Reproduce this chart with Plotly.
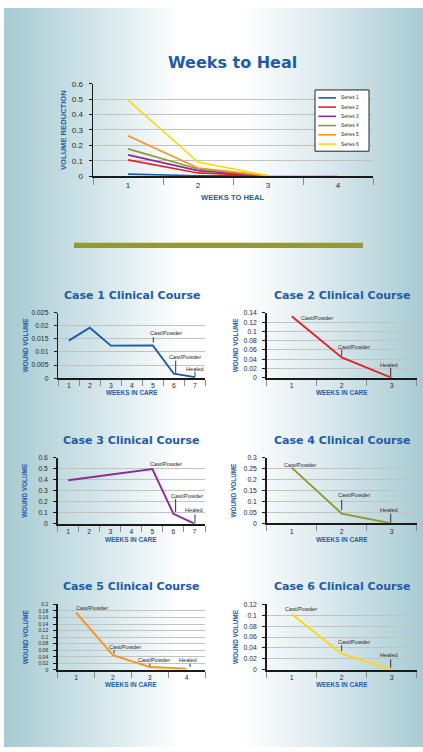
import plotly.graph_objects as go

W, H = 423, 752

# ---------------- data ----------------
main_weeks = [1, 2, 3, 4]
main_week_labels = ["1", "2", "3", "4"]
series_names = ["Series 1", "Series 2", "Series 3", "Series 4", "Series 5", "Series 6"]
series_1 = [0.013, 0.003, 0.002, 0.002]
series_2 = [0.106, 0.021, 0.002, 0.0]
series_3 = [0.138, 0.036, 0.002, 0.001]
series_4 = [0.177, 0.047, 0.003, 0.001]
series_5 = [0.263, 0.053, 0.003, 0.001]
series_6 = [0.493, 0.092, 0.004, 0.001]
main_yticks = [0, 0.1, 0.2, 0.3, 0.4, 0.5, 0.6]

case_titles = ["Case 1 Clinical Course", "Case 2 Clinical Course", "Case 3 Clinical Course",
               "Case 4 Clinical Course", "Case 5 Clinical Course", "Case 6 Clinical Course"]

case1_weeks = [1, 2, 3, 4, 5, 6, 7]
case1_volume = [0.0143, 0.0192, 0.0124, 0.0124, 0.0125, 0.0017, 0.0004]
case1_yticks = [0, 0.005, 0.01, 0.015, 0.02, 0.025]

case2_weeks = [1, 2, 3]
case2_volume = [0.133, 0.044, 0.0]
case2_yticks = [0, 0.02, 0.04, 0.06, 0.08, 0.1, 0.12, 0.14]

case3_weeks = [1, 2, 3, 4, 5, 6, 7]
case3_volume = [0.396, 0.42, 0.445, 0.47, 0.497, 0.09, 0.0]
case3_yticks = [0, 0.1, 0.2, 0.3, 0.4, 0.5, 0.6]

case4_weeks = [1, 2, 3]
case4_volume = [0.255, 0.045, 0.0]
case4_yticks = [0, 0.05, 0.1, 0.15, 0.2, 0.25, 0.3]

case5_weeks = [1, 2, 3, 4]
case5_volume = [0.175, 0.045, 0.009, 0.004]
case5_yticks = [0, 0.02, 0.04, 0.06, 0.08, 0.1, 0.12, 0.14, 0.16, 0.18, 0.2]

case6_weeks = [1, 2, 3]
case6_volume = [0.1025, 0.029, 0.0]
case6_yticks = [0, 0.02, 0.04, 0.06, 0.08, 0.1, 0.12]

# event notes: (week, label)
case1_events = [(5, "Cast/Powder"), (6, "Cast/Powder"), (7, "Healed")]
case2_events = [(1, "Cast/Powder"), (2, "Cast/Powder"), (3, "Healed")]
case3_events = [(5, "Cast/Powder"), (6, "Cast/Powder"), (7, "Healed")]
case4_events = [(1, "Cast/Powder"), (2, "Cast/Powder"), (3, "Healed")]
case5_events = [(1, "Cast/Powder"), (2, "Cast/Powder"), (3, "Cast/Powder"), (4, "Healed")]
case6_events = [(1, "Cast/Powder"), (2, "Cast/Powder"), (3, "Healed")]

# ---------------- styles / placement ----------------
BLUE_TXT = "#1f5ca8"
series_colors = ["#1d5aa8", "#e2222b", "#8a2b9a", "#8c9b2e", "#f7941e", "#fdd80f"]
PLOT_BG = "#fdfbe6"
GRID = "#c2c2c2"
AXIS = "#1a1a1a"
TICKC = "#8c8c8c"
TXT = "#2a2a2a"
TITLE_FONT = "DejaVu Sans"
NARROW = "Liberation Sans Narrow, Liberation Sans, Arial"
SANS = "Liberation Sans, Arial"

# text placement for each event: (text y in data units, text x shift px, marker line (dx, y0, y1) or None)
case1_event_pos = [(0.0171, 13.5, (0.5, 0.0156, 0.0136)), (0.0080, 11.5, (1.9, 0.0067, 0.0020)),
                   (0.0035, 0.0, (0.2, 0.0024, 0.0005))]
case2_event_pos = [(0.1293, 25.5, None), (0.0675, 12.3, (0.0, 0.0604, 0.0476)),
                   (0.0284, -2.4, (-1.0, 0.0213, 0.0034))]
case3_event_pos = [(0.54, 14.0, None), (0.2545, 14.0, (2.2, 0.225, 0.105)),
                   (0.123, 0.0, (0.5, 0.084, 0.009))]
case4_event_pos = [(0.2666, 8.3, None), (0.128, 12.3, (0.0, 0.108, 0.0605)),
                   (0.0605, -2.4, (-1.0, 0.044, 0.006))]
case5_event_pos = [(0.188, 16.0, None), (0.0694, 12.4, (1.1, 0.0603, 0.0503)),
                   (0.029, 4.0, (0.2, 0.019, 0.011)), (0.029, 1.7, (3.4, 0.019, 0.009))]
case6_event_pos = [(0.111, 9.3, None), (0.0504, 12.3, (0.0, 0.045, 0.034)),
                   (0.0267, -2.4, (-1.0, 0.019, 0.0036))]

# frames in pixels: x0, x1, ytop, ybottom, title y, x-title y, y-title x, tick font size
case_frames = [
    dict(x0=58.3, x1=205.3, yt=312.3, yb=378.7, ty=295.0, xty=393.0, ytx=25.0, fs=6.8),
    dict(x0=266.7, x1=416.7, yt=312.7, yb=378.3, ty=295.0, xty=393.3, ytx=235.0, fs=6.8),
    dict(x0=57.7, x1=205.0, yt=459.3, yb=526.0, ty=441.7, xty=541.7, ytx=25.0, fs=6.8),
    dict(x0=266.7, x1=416.7, yt=459.3, yb=525.7, ty=441.7, xty=542.3, ytx=234.0, fs=6.8),
    dict(x0=57.7, x1=205.0, yt=607.7, yb=674.0, ty=590.0, xty=688.3, ytx=25.0, fs=5.0),
    dict(x0=266.7, x1=416.7, yt=607.7, yb=673.7, ty=590.0, xty=688.3, ytx=235.0, fs=6.8),
]

cases = [
    (case1_weeks, case1_volume, case1_yticks, case1_events, case1_event_pos),
    (case2_weeks, case2_volume, case2_yticks, case2_events, case2_event_pos),
    (case3_weeks, case3_volume, case3_yticks, case3_events, case3_event_pos),
    (case4_weeks, case4_volume, case4_yticks, case4_events, case4_event_pos),
    (case5_weeks, case5_volume, case5_yticks, case5_events, case5_event_pos),
    (case6_weeks, case6_volume, case6_yticks, case6_events, case6_event_pos),
]


def fx(p):
    return p / W


def fy(p):
    return 1 - p / H


fig = go.Figure()
shapes = []
annotations = []
layout = {}

# ---------------- background gradient ----------------
stops = [(0.0, (166, 202, 210)), (0.22, (210, 229, 233)), (0.42, (255, 255, 255)),
         (0.57, (255, 255, 255)), (0.78, (216, 232, 236)), (1.0, (168, 203, 211))]


def grad(t):
    for (t0, c0), (t1, c1) in zip(stops[:-1], stops[1:]):
        if t0 <= t <= t1:
            u = (t - t0) / (t1 - t0) if t1 > t0 else 0
            return "rgb(%d,%d,%d)" % tuple(round(a + (b - a) * u) for a, b in zip(c0, c1))
    return "rgb(%d,%d,%d)" % stops[-1][1]


N = 106
x_left = 4.0
for i in range(N):
    a = x_left + (W - x_left) * i / N
    b = x_left + (W - x_left) * (i + 1) / N + 0.6
    shapes.append(dict(type="rect", xref="paper", yref="paper", x0=fx(a), x1=fx(min(b, W)),
                       y0=0, y1=fy(4), fillcolor=grad((i + 0.5) / N), line=dict(width=0),
                       layer="below"))

# olive divider
shapes.append(dict(type="rect", xref="paper", yref="paper", x0=fx(74), x1=fx(363),
                   y0=fy(247), y1=fy(241.7), fillcolor="#949a30", line=dict(width=0), layer="below"))

# ---------------- main chart ----------------
main_series = [series_1, series_2, series_3, series_4, series_5, series_6]
for name, vals, col in zip(series_names, main_series, series_colors):
    fig.add_trace(go.Scatter(x=main_weeks, y=vals, mode="lines", name=name,
                             line=dict(color=col, width=1.7), xaxis="x", yaxis="y",
                             showlegend=False))

layout["xaxis"] = dict(domain=[fx(93), fx(373)], anchor="y", range=[0.5, 4.5],
                       tickmode="array", tickvals=main_weeks, ticktext=main_week_labels,
                       ticks="", showline=True, linecolor=AXIS, linewidth=2, showgrid=False,
                       zeroline=False, tickfont=dict(family=SANS, size=8, color=TXT),
                       minor=dict(tickmode="linear", tick0=0.5, dtick=1, ticks="outside",
                                  ticklen=7, tickcolor=TICKC, tickwidth=1, showgrid=False))
layout["yaxis"] = dict(domain=[fy(174.3), fy(80.7)], anchor="x", range=[0, 0.6],
                       tickmode="array", tickvals=main_yticks,
                       ticktext=[f"{v:g}" for v in main_yticks],
                       ticks="outside", ticklen=3, tickcolor=AXIS, showline=True,
                       linecolor=AXIS, linewidth=1.5, showgrid=True, gridcolor=GRID,
                       gridwidth=1, zeroline=False, ticklabelstandoff=4,
                       tickfont=dict(family=SANS, size=8, color=TXT))

annotations.append(dict(text="<b>Weeks to Heal</b>", xref="paper", yref="paper", x=fx(232),
                        y=fy(59), xanchor="center", yanchor="middle", showarrow=False,
                        font=dict(family=TITLE_FONT, size=16, color=BLUE_TXT)))
annotations.append(dict(text="<b>WEEKS TO HEAL</b>", xref="paper", yref="paper", x=fx(233),
                        y=fy(195.7), xanchor="center", yanchor="middle", showarrow=False,
                        font=dict(family=NARROW, size=7.6, color=BLUE_TXT)))
annotations.append(dict(text="<b>VOLUME REDUCTION</b>", xref="paper", yref="paper", x=fx(64),
                        y=fy(127.5), xanchor="center", yanchor="middle", showarrow=False,
                        textangle=-90, font=dict(family=NARROW, size=7.6, color=BLUE_TXT)))

# legend (manual, compact)
lg_x0, lg_x1, lg_y0, lg_y1 = 315, 369, 87, 149
shapes.append(dict(type="rect", xref="paper", yref="paper", x0=fx(lg_x0), x1=fx(lg_x1),
                   y0=fy(lg_y1), y1=fy(lg_y0), fillcolor="white",
                   line=dict(color="#222222", width=1), layer="above"))
for i, (name, col) in enumerate(zip(series_names, series_colors)):
    yc = 95.0 + i * 9.35
    shapes.append(dict(type="line", xref="paper", yref="paper", x0=fx(318.3), x1=fx(336),
                       y0=fy(yc), y1=fy(yc), line=dict(color=col, width=1.6), layer="above"))
    annotations.append(dict(text=name, xref="paper", yref="paper", x=fx(339.3), y=fy(yc),
                            xanchor="left", yanchor="middle", showarrow=False,
                            font=dict(family=SANS, size=4.8, color=TXT)))

# ---------------- case charts ----------------
for k, ((weeks, vol, yt, events, epos), fr, title) in enumerate(zip(cases, case_frames, case_titles)):
    n = k + 2
    xa, ya = f"x{n}", f"y{n}"
    col = series_colors[k]
    fig.add_trace(go.Scatter(x=weeks, y=vol, mode="lines", name=title,
                             line=dict(color=col, width=1.9), xaxis=xa, yaxis=ya,
                             showlegend=False))
    layout[f"xaxis{n}"] = dict(domain=[fx(fr["x0"]), fx(fr["x1"])], anchor=ya,
                               range=[0.5, len(weeks) + 0.5], tickmode="array", tickvals=weeks,
                               ticktext=[str(w) for w in weeks], ticks="", showline=True,
                               linecolor=AXIS, linewidth=2, showgrid=False, zeroline=False,
                               tickfont=dict(family=SANS, size=6.8, color=TXT),
                               minor=dict(tickmode="linear", tick0=0.5, dtick=1, ticks="outside",
                                          ticklen=6, tickcolor=TICKC, tickwidth=1, showgrid=False))
    layout[f"yaxis{n}"] = dict(domain=[fy(fr["yb"]), fy(fr["yt"])], anchor=xa,
                               range=[0, yt[-1]], tickmode="array", tickvals=yt,
                               ticktext=[f"{v:g}" for v in yt], ticks="outside", ticklen=3,
                               tickcolor=AXIS, showline=True, linecolor=AXIS, linewidth=1.5,
                               showgrid=True, gridcolor=GRID, gridwidth=1, zeroline=False,
                               ticklabelstandoff=4,
                               tickfont=dict(family=SANS, size=fr["fs"], color=TXT))
    xc = (fr["x0"] + fr["x1"]) / 2
    annotations.append(dict(text=f"<b>{title}</b>", xref="paper", yref="paper", x=fx(xc),
                            y=fy(fr["ty"]), xanchor="center", yanchor="middle", showarrow=False,
                            font=dict(family=TITLE_FONT, size=11, color=BLUE_TXT)))
    annotations.append(dict(text="<b>WEEKS IN CARE</b>", xref="paper", yref="paper", x=fx(xc),
                            y=fy(fr["xty"]), xanchor="center", yanchor="middle", showarrow=False,
                            font=dict(family=NARROW, size=6.4, color=BLUE_TXT)))
    annotations.append(dict(text="<b>WOUND VOLUME</b>", xref="paper", yref="paper",
                            x=fx(fr["ytx"]), y=fy((fr["yt"] + fr["yb"]) / 2), xanchor="center",
                            yanchor="middle", showarrow=False, textangle=-90,
                            font=dict(family=NARROW, size=6.4, color=BLUE_TXT)))
    for (wk, label), (ty, dx, mark) in zip(events, epos):
        annotations.append(dict(text=label, xref=xa, yref=ya, x=wk, y=ty, xshift=dx,
                                xanchor="center", yanchor="middle", showarrow=False,
                                font=dict(family=SANS, size=5.6, color=TXT)))
        if mark is not None:
            mdx, m0, m1 = mark
            shapes.append(dict(type="line", xref=xa, yref=ya, xsizemode="pixel", xanchor=wk,
                               x0=mdx, x1=mdx, y0=m0, y1=m1,
                               line=dict(color="#333333", width=1), layer="above"))

fig.update_layout(width=W, height=H, margin=dict(l=0, r=0, t=0, b=0), autosize=False,
                  paper_bgcolor="white", plot_bgcolor=PLOT_BG, showlegend=False,
                  shapes=shapes, annotations=annotations, **layout)

fig.write_html("out.html", config={"displayModeBar": False, "staticPlot": True},
               post_script="document.body.style.margin='0';document.body.style.overflow='hidden';")
